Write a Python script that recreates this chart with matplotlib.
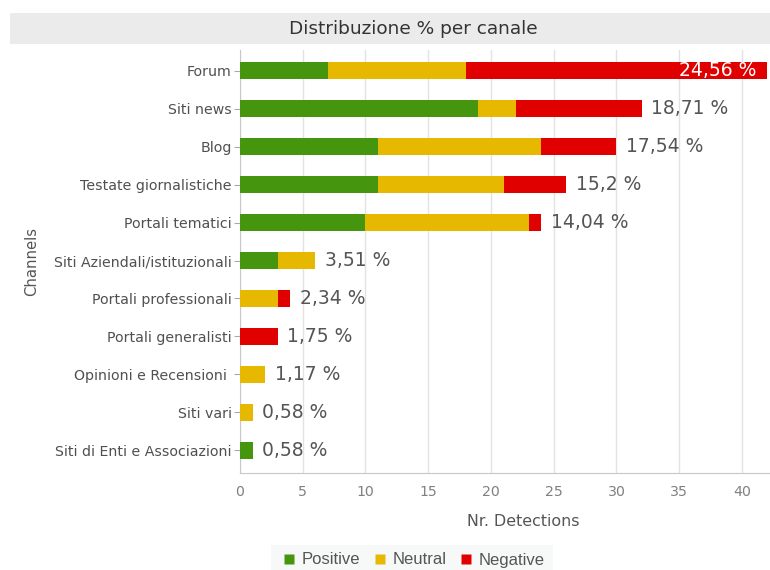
import matplotlib
matplotlib.use("Agg")
import matplotlib.pyplot as plt
from matplotlib.patches import Rectangle
from matplotlib.lines import Line2D

# Detections per channel, split by sentiment
channels = [
    "Forum", "Siti news", "Blog", "Testate giornalistiche", "Portali tematici",
    "Siti Aziendali/istituzionali", "Portali professionali", "Portali generalisti",
    "Opinioni e Recensioni ", "Siti vari", "Siti di Enti e Associazioni",
]
positive = [7, 19, 11, 11, 10, 3, 0, 0, 0, 0, 1]
neutral = [11, 3, 13, 10, 13, 3, 3, 0, 2, 1, 0]
negative = [24, 10, 6, 5, 1, 0, 1, 3, 0, 0, 0]
series_names = ["Positive", "Neutral", "Negative"]
x_ticks = [0, 5, 10, 15, 20, 25, 30, 35, 40]

colors = ["#45950f", "#e6b800", "#e10000"]

totals = [p + n + g for p, n, g in zip(positive, neutral, negative)]
grand_total = sum(totals)

W, H = 770, 570
fig = plt.figure(figsize=(W / 100, H / 100), dpi=100)
fig.patch.set_facecolor("white")

# Title band
fig.patches.append(Rectangle((10 / W, 1 - 44 / H), 770 / W, 31 / H,
                             transform=fig.transFigure, facecolor="#ebebeb",
                             edgecolor="none", zorder=0))
fig.text(413 / W, 1 - 29 / H, "Distribuzione % per canale", ha="center",
         va="center", fontsize=13.3, color="#333333", family="DejaVu Sans")

ax = fig.add_axes([240 / W, 1 - 473 / H, (W - 240) / W, (473 - 50) / H])
ypos = list(range(len(channels)))
bar_h = 0.45

left = [0] * len(channels)
for vals, col in zip([positive, neutral, negative], colors):
    ax.barh(ypos, vals, left=left, height=bar_h, color=col, edgecolor="none", zorder=3)
    left = [a + b for a, b in zip(left, vals)]

for i, tot in enumerate(totals):
    pct = round(tot / grand_total * 100, 2)
    txt = f"{pct:g}".replace(".", ",") + " %"
    if i == 0:
        ax.annotate(txt, (tot, i), xytext=(-7.5, 0), textcoords="offset points",
                    ha="right", va="center", fontsize=13.5, color="white", zorder=4)
    else:
        ax.annotate(txt, (tot, i), xytext=(7, 0), textcoords="offset points",
                    ha="left", va="center", fontsize=13.5, color="#555555", zorder=4)

ax.set_xlim(0, (W - 239.5) / 12.56)
ax.set_ylim(len(channels) - 0.4, -0.55)
ax.set_yticks(ypos)
ax.set_yticklabels(channels, fontsize=10.2, color="#505050")
ax.set_xticks(x_ticks)
ax.set_xticklabels([str(t) for t in x_ticks], fontsize=10.2, color="#808080")
ax.tick_params(axis="y", length=4, color="#aaaaaa", pad=2)
ax.tick_params(axis="x", length=0, pad=9)
ax.grid(axis="x", color="#e2e2e2", linewidth=1, zorder=0)
ax.set_axisbelow(True)
for s in ["top", "right"]:
    ax.spines[s].set_visible(False)
ax.spines["left"].set_color("#c8c8c8")
ax.spines["bottom"].set_color("#c8c8c8")

fig.text(523 / W, 1 - 521 / H, "Nr. Detections", ha="center", va="center",
         fontsize=11.4, color="#555555")
fig.text(32 / W, 1 - 261 / H, "Channels", rotation=90, ha="center", va="center",
         fontsize=10.7, color="#555555")

handles = [Line2D([], [], marker="s", linestyle="none", markersize=7.5,
                  markerfacecolor=c, markeredgecolor="none") for c in colors]
leg = fig.legend(handles, series_names, loc="center", ncol=3,
                 bbox_to_anchor=(412 / W, 1 - 560 / H), frameon=True,
                 prop={"family": "Liberation Sans", "size": 12},
                 handletextpad=0.15, columnspacing=0.6, borderpad=0.45,
                 handlelength=1.2, fancybox=False)
leg.get_frame().set_facecolor("#f6f8f8")
leg.get_frame().set_edgecolor("none")
for t in leg.get_texts():
    t.set_color("#555555")

fig.savefig("out.png", dpi=100)
